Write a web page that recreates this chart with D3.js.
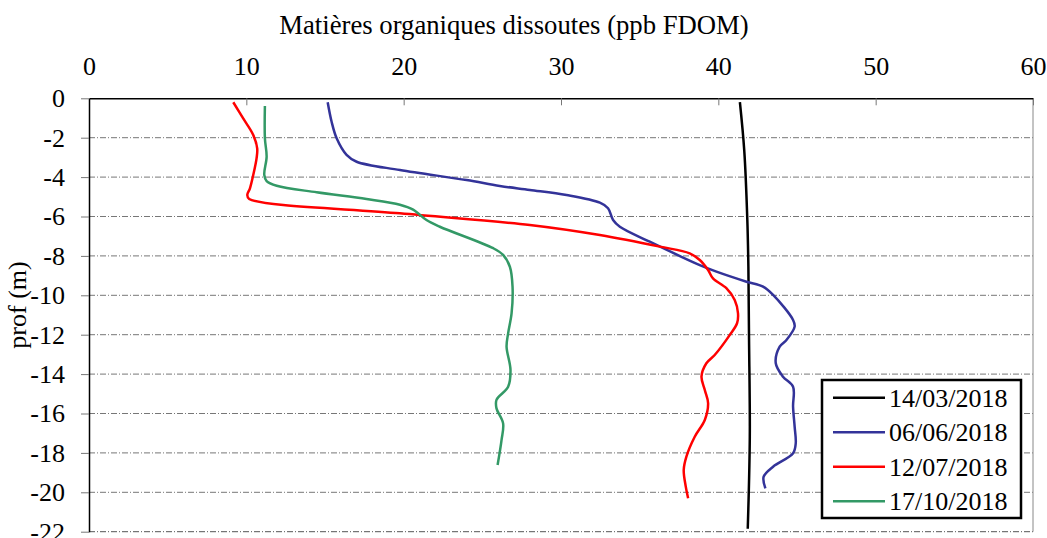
<!DOCTYPE html>
<html>
<head>
<meta charset="utf-8">
<script src="https://cdn.jsdelivr.net/npm/d3@7"></script>
<style>
  body { margin: 0; background: #fff; }
  svg text { font-family: "Liberation Serif", "Times New Roman", serif; }
</style>
</head>
<body>
<div id="chart"></div>
<script>
// profils FDOM : [valeur ppb, profondeur m]
const mars = [[41.37, -0.2], [41.65, -2.68], [41.84, -6.11], [41.91, -8.55], [41.95, -12.1],
  [42.0, -17.18], [41.87, -21.85]];

const juin = [[15.17, -0.2], [15.42, -1.19], [15.74, -2.03], [16.37, -2.87], [17.01, -3.22],
  [19.76, -3.64], [24.0, -4.15], [26.11, -4.45], [28.02, -4.65], [30.35, -4.91], [32.47, -5.3],
  [32.99, -5.58], [33.31, -6.18], [33.74, -6.52], [35.64, -7.28], [38.82, -8.47], [39.88, -8.8],
  [41.79, -9.31], [42.84, -9.56], [43.48, -9.98], [44.75, -11.25], [44.85, -11.59], [44.33, -12.27],
  [43.9, -12.61], [43.65, -13.45], [44.11, -14.13], [44.75, -14.64], [44.75, -15.65], [44.85, -16.67],
  [44.92, -17.51], [44.75, -18.02], [43.48, -18.7], [42.88, -19.21], [42.99, -19.8]];

const juillet = [[9.17, -0.2], [9.8, -1.02], [10.44, -1.86], [10.69, -2.54], [10.65, -3.05],
  [10.44, -3.89], [10.23, -4.57], [10.06, -4.91], [10.18, -5.11], [19.76, -5.84], [28.02, -6.43],
  [32.47, -6.94], [36.28, -7.53], [38.18, -7.87], [38.82, -8.21], [39.35, -8.72], [39.66, -9.14],
  [40.51, -9.64], [41.04, -10.24], [41.25, -10.91], [41.19, -11.42], [40.72, -12.02], [39.77, -13.03],
  [39.24, -13.45], [38.93, -14.13], [39.14, -14.81], [39.35, -15.48], [39.14, -16.33], [38.5, -17.18],
  [37.97, -18.19], [37.8, -18.87], [37.93, -19.71], [38.08, -20.3]];

const octobre = [[11.18, -0.39], [11.18, -2.03], [11.29, -2.96], [11.14, -3.89], [11.29, -4.2],
  [11.93, -4.44], [14.47, -4.77], [17.64, -5.11], [19.76, -5.4], [20.6, -5.65], [21.45, -6.18],
  [22.3, -6.52], [25.69, -7.61], [26.32, -7.95], [26.75, -8.55], [26.92, -9.56], [26.86, -10.91],
  [26.64, -11.93], [26.54, -12.61], [26.79, -13.79], [26.64, -14.64], [25.9, -15.31], [25.9, -15.74],
  [26.32, -16.5], [26.22, -17.35], [25.97, -18.61]];

const series = [
  { nom: '14/03/2018', data: mars, couleur: '#000000' },
  { nom: '06/06/2018', data: juin, couleur: '#333399' },
  { nom: '12/07/2018', data: juillet, couleur: '#ff0000' },
  { nom: '17/10/2018', data: octobre, couleur: '#339966' }
];

const xTicks = [0, 10, 20, 30, 40, 50, 60];
const yTicks = [0, -2, -4, -6, -8, -10, -12, -14, -16, -18, -20, -22];

const width = 1047, height = 538;
const plotLeft = 89, plotRight = 1033, plotTop = 98.3, plotBottom = 531.7;
const serif = '"Liberation Serif", "Times New Roman", serif';

const svg = d3.select('#chart').append('svg')
  .attr('width', width)
  .attr('height', height);

const x = d3.scaleLinear().domain([0, 60]).range([plotLeft, plotRight]);
const y = d3.scaleLinear().domain([0, -22]).range([plotTop, plotBottom]);

// grille horizontale (tirets-points)
svg.append('g')
  .selectAll('line')
  .data(yTicks.slice(1))
  .join('line')
  .attr('x1', plotLeft).attr('x2', plotRight)
  .attr('y1', d => y(d)).attr('y2', d => y(d))
  .attr('stroke', d => d === -22 ? '#555' : '#777')
  .attr('stroke-width', 1)
  .attr('stroke-dasharray', '6,2,1,2');

// bord droit
svg.append('line')
  .attr('x1', plotRight).attr('x2', plotRight)
  .attr('y1', plotTop).attr('y2', plotBottom)
  .attr('stroke', '#888')
  .attr('stroke-width', 1);

// axe du haut
const xAxis = svg.append('g')
  .attr('transform', `translate(0,${plotTop})`)
  .call(d3.axisTop(x).tickValues(xTicks).tickFormat(d => String(d))
    .tickSize(-7).tickPadding(23).tickSizeOuter(0));
xAxis.attr('font-family', null).attr('font-size', null);
xAxis.select('.domain').attr('stroke', '#000').attr('stroke-width', 1.5);
xAxis.selectAll('.tick line').attr('stroke', '#777');
xAxis.selectAll('.tick text')
  .style('font-size', '26px')
  .style('font-family', serif)
  .attr('fill', '#000');

// axe de gauche
const yAxis = svg.append('g')
  .attr('transform', `translate(${plotLeft},0)`)
  .call(d3.axisLeft(y).tickValues(yTicks).tickFormat(d => String(d))
    .tickSize(8).tickPadding(16).tickSizeOuter(0));
yAxis.attr('font-family', null).attr('font-size', null);
yAxis.select('.domain').attr('stroke', '#000').attr('stroke-width', 1.5);
yAxis.selectAll('.tick line').attr('stroke', '#777');
yAxis.selectAll('.tick text')
  .style('font-size', '26px')
  .style('font-family', serif)
  .attr('fill', '#000');

// titres
svg.append('text')
  .attr('x', 514)
  .attr('y', 34)
  .attr('text-anchor', 'middle')
  .style('font-size', '26.7px')
  .text('Matières organiques dissoutes (ppb FDOM)');

svg.append('text')
  .attr('transform', 'translate(26,305) rotate(-90)')
  .attr('text-anchor', 'middle')
  .style('font-size', '26px')
  .text('prof (m)');

// profils
const line = d3.line()
  .x(d => x(d[0]))
  .y(d => y(d[1]))
  .curve(d3.curveCatmullRom.alpha(0.5));

svg.append('g')
  .selectAll('path')
  .data(series)
  .join('path')
  .attr('d', d => line(d.data))
  .attr('fill', 'none')
  .attr('stroke', d => d.couleur)
  .attr('stroke-width', 2.5)
  .attr('stroke-linejoin', 'round');

// légende
const legend = svg.append('g');
legend.append('rect')
  .attr('x', 822).attr('y', 380)
  .attr('width', 199).attr('height', 138)
  .attr('fill', '#fff')
  .attr('stroke', '#000')
  .attr('stroke-width', 2.5);

const item = legend.selectAll('g')
  .data(series)
  .join('g')
  .attr('transform', (d, i) => `translate(0,${397.7 + i * 34.5})`);

item.append('line')
  .attr('x1', 833).attr('x2', 885)
  .attr('stroke', d => d.couleur)
  .attr('stroke-width', 2.5);

item.append('text')
  .attr('x', 889)
  .attr('y', 9)
  .style('font-size', '26px')
  .text(d => d.nom);
</script>
</body>
</html>
